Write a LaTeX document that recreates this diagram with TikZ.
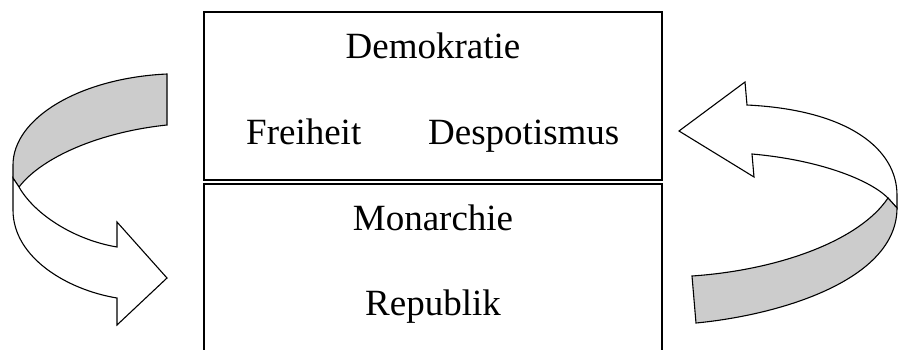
\documentclass[tikz,border=0pt]{standalone}
\usepackage{fontspec}
\setmainfont{Liberation Serif}
\begin{document}
\begin{tikzpicture}[x=1pt,y=-1pt,
  box/.style={draw=black,line width=1.6pt,minimum width=458pt,inner sep=0pt},
  lbl/.style={inner sep=0pt,anchor=base,font=\fontsize{37}{44}\selectfont},
  arrowline/.style={draw=black,line width=1.1pt,line join=miter},
  backside/.style={arrowline,fill=black!20},
  frontside/.style={arrowline,fill=white}]
\useasboundingbox (0,0) rectangle (898,349);
\clip (0,0) rectangle (898,349);
% boxes
\node[box,minimum height=168pt] (topbox) at (433,96) {};
\node[box,minimum height=216pt] (botbox) at (433,292) {};
% texts
\node[lbl] (demo) at (433,58) {Demokratie};
\node[lbl,anchor=base west] (frei) at (246,144) {Freiheit};
\node[lbl,anchor=base west] (desp) at (428,144) {Despotismus};
\node[lbl] (mon) at (433,230) {Monarchie};
\node[lbl] (rep) at (433,315) {Republik};
% left curved arrow
\coordinate (lt1) at (167,74);
\coordinate (lt2) at (167,125);
\coordinate (lm) at (19,187);
\coordinate (le) at (13,178);
\path[backside] (lt1) -- (lt2) .. controls (100,132) and (42,157) .. (lm)
  -- (le) -- (13,165) .. controls (13,118) and (80,78) .. (lt1) -- cycle;
\path[frontside] (lm) .. controls (35,215) and (75,240) .. (117,247)
  -- (117,222) -- (167,278) -- (117,325) -- (117,298)
  .. controls (68,290) and (13,258) .. (13,210) -- (le) -- cycle;
% right curved arrow
\coordinate (rm) at (888,198);
\coordinate (re) at (897,208);
\coordinate (rt1) at (692,276);
\coordinate (rt2) at (696,323);
\path[frontside] (679,131) -- (745,82) -- (747,105)
  .. controls (850,110) and (897,150) .. (897,195) -- (re) -- (rm)
  .. controls (870,180) and (820,160) .. (752,154) -- (754,177) -- cycle;
\path[backside] (rt1) .. controls (780,270) and (860,240) .. (rm) -- (re)
  .. controls (897,280) and (780,315) .. (rt2) -- cycle;
\end{tikzpicture}
\end{document}
